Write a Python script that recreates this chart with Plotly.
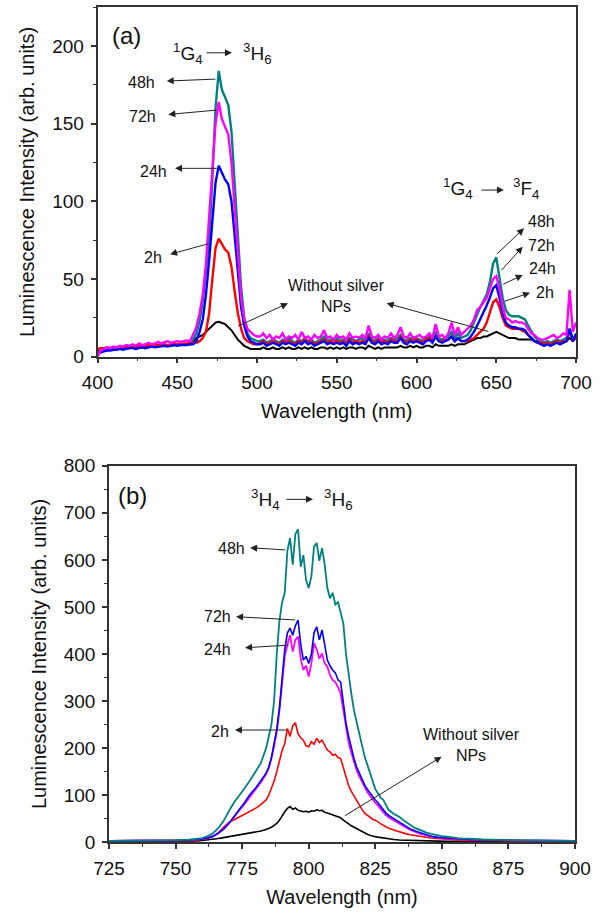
import plotly.graph_objects as go

# ---------------- Panel (a) data ----------------
wl_a = list(range(400, 701, 2))

lum_a_48h = ([3, 3.5, 4, 4.5, 4.5, 5, 5, 5.5, 5, 5.5, 6, 6, 5.5, 6, 6.5, 6, 6.5, 7, 6.5, 7, 7, 7.5, 7, 7.5, 8, 7.5, 8, 8, 8, 9]
             + [11, 15, 23, 36, 55, 75, 115, 160, 184, 172, 167, 162, 145, 112, 75, 45, 25, 15, 12, 11, 10]
             + [10, 11, 9, 10, 11, 10, 9, 11, 10, 12, 10, 9, 11, 10, 12, 10, 11, 9, 10, 11, 13, 10, 11, 10,
                12, 10, 11, 10, 12, 11, 10, 11, 12, 10, 15, 11, 10, 12, 10, 11, 10, 12, 11, 12, 14, 11, 10, 12,
                11, 12, 11, 10, 12, 13, 11, 16, 12, 11, 12, 13, 16, 12, 15, 12]
             + [13, 14, 17, 22, 28, 32, 36, 40, 48, 60, 64, 52, 38, 30, 27, 26, 26, 26, 25, 24, 20, 16, 13, 11, 10, 9]
             + [10, 9, 10, 11, 10, 11, 12, 18, 11, 14])

lum_a_72h = ([0, 4, 5, 6, 5.5, 6.5, 6, 7, 6.5, 7.5, 7, 8, 7, 8.5, 7.5, 8, 9, 8, 8.5, 9.5, 8.5, 9, 10, 9, 9.5, 10, 9.5, 10, 10.5, 10]
             + [15, 19, 28, 40, 60, 90, 125, 150, 164, 153, 148, 143, 125, 95, 62, 38, 24, 18, 16, 14, 13]
             + [13, 15, 12, 14, 11, 13, 12, 15, 11, 13, 12, 14, 11, 16, 12, 13, 11, 14, 12, 13, 17, 12, 13, 11,
                14, 12, 13, 11, 15, 12, 13, 12, 14, 12, 20, 13, 12, 14, 11, 13, 12, 15, 12, 14, 19, 13, 12, 15,
                12, 13, 14, 12, 13, 15, 12, 21, 13, 14, 12, 15, 22, 14, 19, 14]
             + [16, 18, 20, 24, 30, 32, 35, 38, 44, 50, 52, 44, 32, 25, 24, 22, 23, 22, 22, 21, 18, 15, 14, 12, 11, 11]
             + [12, 13, 14, 12, 13, 15, 14, 43, 16, 22])

lum_a_24h = ([2, 3, 3.5, 4, 4, 4.5, 4.5, 5, 4.5, 5, 5.5, 5.5, 5, 5.5, 6, 5.5, 6, 6.5, 6, 6.5, 6.5, 7, 6.5, 7, 7.5, 7, 7.5, 7.5, 7.5, 8]
             + [8, 10, 16, 24, 40, 62, 90, 112, 123, 118, 114, 111, 100, 78, 52, 32, 20, 13, 10, 9, 8]
             + [8, 9, 7, 8, 9, 8, 7, 9, 8, 9, 8, 7, 9, 8, 10, 8, 9, 7, 8, 9, 10, 8, 9, 8,
                9, 8, 9, 7, 10, 8, 9, 8, 9, 8, 12, 9, 8, 10, 8, 9, 8, 10, 9, 9, 12, 9, 8, 10,
                9, 10, 9, 8, 10, 11, 9, 13, 10, 9, 10, 11, 13, 10, 12, 10]
             + [10, 11, 13, 16, 20, 24, 28, 33, 38, 44, 46, 38, 28, 22, 20, 19, 19, 18, 18, 17, 14, 12, 10, 9, 8, 7]
             + [8, 7, 8, 9, 8, 9, 10, 18, 10, 15])

lum_a_2h = ([5, 5.5, 5.5, 6, 5.5, 6, 6, 6.5, 6, 6.5, 6.5, 7, 6.5, 7, 7, 7, 7.5, 7, 7.5, 7.5, 7.5, 8, 7.5, 8, 8, 8, 8, 8.5, 8.5, 9]
            + [9, 9, 10, 12, 16, 28, 50, 70, 76, 72, 69, 67, 58, 42, 28, 18, 12, 10, 9, 8, 8]
            + [9, 10, 8, 9, 10, 9, 8, 10, 9, 10, 9, 8, 10, 9, 11, 9, 10, 8, 9, 10, 11, 9, 10, 9,
               10, 9, 10, 8, 11, 9, 10, 9, 10, 9, 13, 10, 9, 11, 9, 10, 9, 11, 10, 10, 13, 10, 9, 11,
               10, 11, 10, 9, 11, 12, 10, 13, 10, 10, 11, 11, 13, 10, 12, 10]
            + [10, 10, 11, 12, 14, 16, 18, 22, 28, 35, 37, 32, 25, 20, 19, 18, 18, 18, 17, 16, 14, 12, 10, 9, 9, 8]
            + [9, 8, 9, 10, 9, 10, 10, 17, 10, 13])

lum_a_none = ([4, 4, 4.5, 4.5, 5, 5, 5, 5, 5.5, 5.5, 5.5, 6, 6, 6, 6, 6.5, 6.5, 6.5, 6.5, 7, 7, 7, 7, 7, 7.5, 7.5, 7.5, 7.5, 8, 8]
              + [10, 12, 13, 14, 16, 18, 20, 22, 22.5, 22, 21, 19, 17, 14, 11, 9, 7, 6, 5, 5, 5]
              + [5, 6, 5, 5, 6, 5, 5, 6, 5, 6, 5, 5, 6, 5, 6, 5, 6, 5, 5, 6, 6, 5, 6, 5,
                 6, 5, 6, 5, 6, 6, 5, 6, 6, 5, 7, 6, 5, 6, 5, 6, 6, 6, 6, 6, 7, 6, 6, 7,
                 6, 7, 6, 6, 7, 7, 6, 8, 7, 7, 7, 7, 8, 7, 8, 8]
              + [8, 9, 10, 11, 12, 12, 13, 13, 14, 15, 16, 15, 14, 13, 12, 12, 12, 11, 11, 11, 11, 11, 10, 10, 10, 9]
              + [9, 8, 9, 9, 8, 9, 10, 12, 10, 12])

# ---------------- Panel (b) data ----------------
wl_b = (list(range(725, 756, 5)) + list(range(758, 785, 2)) + list(range(785, 831))
        + list(range(832, 861, 2)) + list(range(865, 901, 5)))

lum_b_48h = ([3, 3, 3, 3.5, 4, 4.5, 5.5]
             + [7, 9, 13, 19, 30, 45, 66, 85, 100, 115, 132, 150, 168, 200]
             + [225, 250, 300, 400, 470, 510, 530, 620, 646, 590,
                655, 665, 585, 610, 557, 540, 565, 628, 636, 598,
                625, 590, 540, 518, 530, 505, 510, 490, 465, 400,
                355, 316, 280, 255, 231, 205, 182, 165, 147, 128,
                113, 104, 95, 90, 80, 69]
             + [60, 54, 45, 37, 30, 26, 21, 18, 15, 13, 12, 10, 9, 8, 8]
             + [6, 5, 4.5, 4, 4, 3.5, 3.5, 3])

lum_b_72h = ([3, 3, 3, 3.5, 3.5, 4, 5]
             + [6, 7, 9, 13, 19, 28, 40, 55, 68, 82, 98, 112, 127, 145]
             + [158, 178, 205, 235, 280, 340, 395, 420, 440, 405,
                430, 437, 390, 366, 375, 352, 380, 423, 410, 390,
                401, 380, 373, 355, 345, 340, 330, 316, 280, 240,
                212, 190, 170, 153, 140, 128, 116, 107, 99, 91,
                84, 78, 71, 64, 58, 53]
             + [46, 40, 33, 27, 22, 18, 15, 12, 10, 9, 8, 7, 7, 6, 6]
             + [5, 4.5, 4, 3.5, 3.5, 3, 3, 3])

lum_b_24h = ([3, 3, 3, 3.5, 3.5, 4, 5]
             + [6, 7, 9, 13, 19, 28, 40, 56, 70, 85, 102, 115, 130, 147]
             + [160, 180, 210, 240, 285, 345, 410, 445, 455, 440,
                460, 472, 420, 387, 395, 380, 400, 445, 458, 430,
                451, 420, 387, 375, 366, 360, 345, 340, 300, 253,
                225, 200, 178, 160, 147, 135, 122, 113, 105, 97,
                90, 84, 76, 69, 62, 57]
             + [50, 43, 36, 29, 24, 20, 16, 13, 11, 10, 9, 8, 7, 6, 6]
             + [5, 4.5, 4, 3.5, 3.5, 3, 3, 3])

lum_b_2h = ([3, 3, 3, 3, 3.5, 3.5, 4]
            + [5, 6, 8, 12, 20, 32, 42, 48, 54, 60, 66, 72, 80, 90]
            + [100, 115, 130, 150, 175, 195, 210, 242, 225, 248,
               254, 230, 222, 217, 205, 203, 214, 208, 221, 212,
               217, 205, 196, 192, 185, 187, 180, 178, 160, 140,
               120, 108, 98, 90, 78, 70, 62, 58, 53, 49,
               47, 43, 39, 36, 33, 30]
            + [26, 22, 19, 16, 14, 12, 10, 9, 8, 7, 6, 5, 5, 4.5, 4]
            + [3.5, 3, 3, 3, 2.5, 2.5, 2.5, 2.5])

lum_b_none = ([2, 2, 2, 2, 2, 2.5, 3]
              + [3, 4, 5, 6, 8, 10, 12, 14, 16, 18, 19, 21, 24, 27]
              + [29, 32, 36, 40, 47, 57, 65, 72, 76, 70,
                 73, 68, 67, 65, 66, 64, 67, 66, 69, 67,
                 68, 64, 62, 60, 58, 57, 54, 52, 47, 42,
                 39, 35, 32, 29, 25, 22, 19, 17, 15, 13,
                 12, 11, 10, 9, 8, 7]
              + [6, 5, 4.5, 4, 3.5, 3, 3, 2.5, 2.5, 2, 2, 2, 2, 2, 2]
              + [2, 2, 2, 2, 2, 2, 2, 2])

for s in (lum_a_48h, lum_a_72h, lum_a_24h, lum_a_2h, lum_a_none):
    assert len(s) == len(wl_a), len(s)
for s in (lum_b_48h, lum_b_72h, lum_b_24h, lum_b_2h, lum_b_none):
    assert len(s) == len(wl_b), len(s)

C_TEAL, C_MAG, C_BLUE, C_RED, C_BLK = "#008080", "#FF00FF", "#0000FF", "#FF0000", "#000000"
FONT = "Liberation Sans, Arial, sans-serif"
W, H = 603, 912

fig = go.Figure()


def add(x, y, color, xa, ya, width):
    fig.add_trace(go.Scatter(x=x, y=y, mode="lines", line=dict(color=color, width=width),
                             xaxis=xa, yaxis=ya, showlegend=False, hoverinfo="skip"))


add(wl_a, lum_a_none, C_BLK, "x", "y", 2.0)
add(wl_a, lum_a_48h, C_TEAL, "x", "y", 2.4)
add(wl_a, lum_a_2h, C_RED, "x", "y", 2.4)
add(wl_a, lum_a_24h, C_BLUE, "x", "y", 2.4)
add(wl_a, lum_a_72h, C_MAG, "x", "y", 2.4)

add(wl_b, lum_b_none, C_BLK, "x2", "y2", 1.6)
add(wl_b, lum_b_2h, C_RED, "x2", "y2", 1.6)
add(wl_b, lum_b_72h, C_MAG, "x2", "y2", 1.8)
add(wl_b, lum_b_24h, C_BLUE, "x2", "y2", 1.6)
add(wl_b, lum_b_48h, C_TEAL, "x2", "y2", 1.8)

AX = "#333333"


def axis(rng, dtick, mdtick, dom, anchor, title, standoff):
    return dict(range=rng, dtick=dtick, tick0=rng[0], domain=dom, anchor=anchor,
                automargin=False,
                showline=True, linecolor=AX, linewidth=1.5, mirror=True,
                ticks="outside", ticklen=5, tickwidth=1.5, tickcolor=AX,
                ticklabelstandoff=3,
                minor=dict(dtick=mdtick, ticks="outside", ticklen=3, tickwidth=1.2, tickcolor=AX),
                showgrid=False, zeroline=False,
                tickfont=dict(family=FONT, size=19, color="#111"),
                title=dict(text=title, font=dict(family=FONT, size=20, color="#111"), standoff=standoff))


fig.update_layout(
    template="none",
    width=W, height=H, margin=dict(l=0, r=0, t=0, b=0, autoexpand=False),
    paper_bgcolor="white", plot_bgcolor="white",
    xaxis=axis([400, 700], 50, 25, [97.5 / W, 576 / W], "y", "Wavelength (nm)", 12),
    yaxis=axis([0, 225], 50, 25, [(H - 356.7) / H, (H - 7.3) / H], "x",
               "Luminescence Intensity (arb. units)", 12),
    xaxis2=axis([725, 900], 25, 12.5, [109 / W, 575 / W], "y2", "Wavelength (nm)", 12),
    yaxis2=axis([0, 800], 100, 50, [(H - 842.3) / H, (H - 465.7) / H], "x2",
                "Luminescence Intensity (arb. units)", 12),
)

ann = []


def text(xr, yr, x, y, t, size=16):
    ann.append(dict(xref=xr, yref=yr, x=x, y=y, text=t, showarrow=False,
                    font=dict(family=FONT, size=size, color="#111"),
                    xanchor="center", yanchor="middle"))


def arrow(xr, yr, x0, y0, x1, y1):
    ann.append(dict(xref=xr, yref=yr, axref=xr, ayref=yr, x=x1, y=y1, ax=x0, ay=y0,
                    text="", showarrow=True, arrowhead=2, arrowsize=1.4, arrowwidth=1,
                    arrowcolor="#222", standoff=0, startstandoff=0))


# panel (a)
text("x", "y", 418.3, 207, "(a)", 24)
text("x", "y", 456.7, 195.4, "<sup>1</sup>G<sub>4</sub>", 19)
arrow("x", "y", 467.4, 195.7, 484.3, 195.7)
text("x", "y", 500.3, 195.4, "<sup>3</sup>H<sub>6</sub>", 19)
text("x", "y", 626, 108.4, "<sup>1</sup>G<sub>4</sub>", 19)
arrow("x", "y", 639.8, 107.3, 654.8, 107.3)
text("x", "y", 668.7, 108.4, "<sup>3</sup>F<sub>4</sub>", 19)

text("x", "y", 427.3, 176.4, "48h")
arrow("x", "y", 474.9, 178.8, 443.4, 177.5)
text("x", "y", 427.9, 154.5, "72h")
arrow("x", "y", 475.7, 158.9, 444.4, 156)
text("x", "y", 434.8, 119.1, "24h")
arrow("x", "y", 475.7, 121.3, 448.6, 121.3)
text("x", "y", 434.8, 64, "2h")
arrow("x", "y", 470.5, 73, 445.5, 66)

text("x", "y", 549.6, 39, "Without silver<br>NPs")
arrow("x", "y", 487.3, 19.3, 519.4, 34.4)
arrow("x", "y", 646, 16, 581.3, 34.4)

text("x", "y", 678.1, 86.9, "48h")
arrow("x", "y", 649.8, 65.5, 667.4, 82.7)
text("x", "y", 678.1, 71.5, "72h")
arrow("x", "y", 652.4, 54.7, 666.6, 70.8)
text("x", "y", 679.3, 56.9, "24h")
arrow("x", "y", 653.4, 46.2, 666.6, 52.6)
text("x", "y", 680.6, 41.5, "2h")
arrow("x", "y", 654.4, 35.4, 671.2, 41.2)

# panel (b)
text("x2", "y2", 734, 735.8, "(b)", 24)
text("x2", "y2", 783.6, 729.2, "<sup>3</sup>H<sub>4</sub>", 19)
arrow("x2", "y2", 791.1, 728.5, 801.6, 728.5)
text("x2", "y2", 811, 729.2, "<sup>3</sup>H<sub>6</sub>", 19)

text("x2", "y2", 771.1, 624.5, "48h")
arrow("x2", "y2", 791.7, 620.9, 778, 625.7)
text("x2", "y2", 765.7, 479.2, "72h")
arrow("x2", "y2", 795.5, 472.2, 772.7, 479.2)
text("x2", "y2", 765.7, 410, "24h")
arrow("x2", "y2", 793, 419.1, 776.1, 413.3)
text("x2", "y2", 766.7, 234.9, "2h")
arrow("x2", "y2", 792.3, 238.5, 772.3, 238.5)

text("x2", "y2", 861.2, 206, "Without silver<br>NPs")
arrow("x2", "y2", 813, 54.4, 849.9, 181.8)

fig.update_layout(annotations=ann)
fig.write_html("out.html")
